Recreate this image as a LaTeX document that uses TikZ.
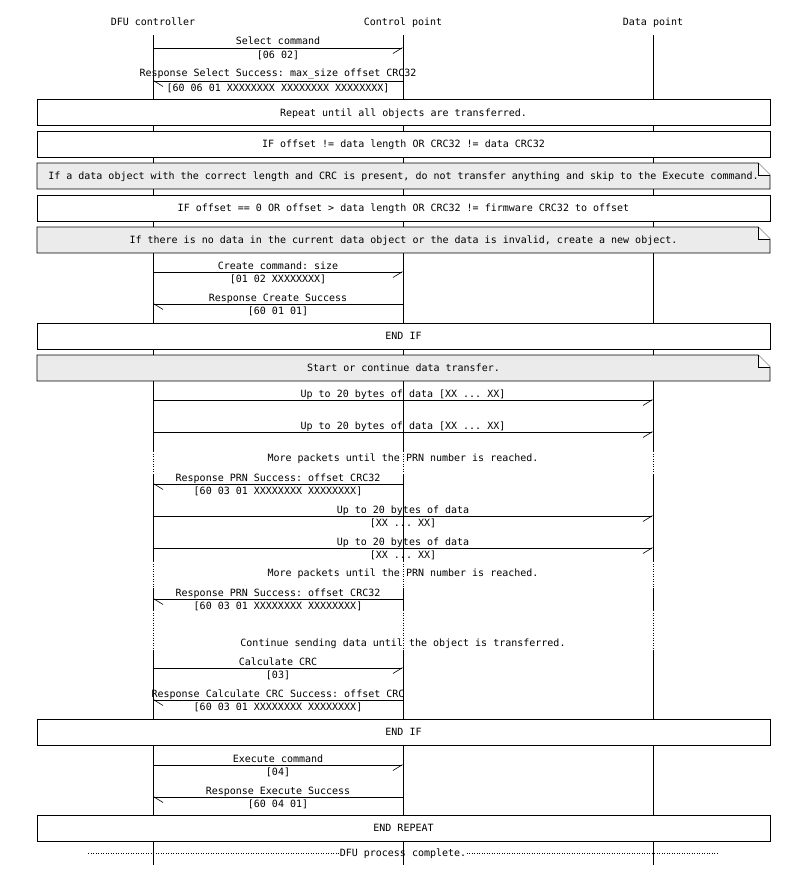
\documentclass[tikz,border=0pt]{standalone}
\usepackage{fontspec}
\setmonofont{DejaVu Sans Mono}
\usepackage{xcolor}
\usepackage{tikz}
\usetikzlibrary{math,arrows.meta}
\definecolor{notegray}{RGB}{235,235,235}

\begin{document}
\begin{tikzpicture}[x=1pt,y=-1pt,line width=0.9pt,
	font=\ttfamily\fontsize{10}{12}\selectfont,
	lbltext/.style={anchor=base,inner sep=0pt},
	lblup/.style={anchor=base,inner sep=0pt,yshift=3pt},
	lbldn/.style={anchor=base,inner sep=0pt,yshift=-10.6pt},
	boxrow/.style={draw,fill=white,minimum width=733pt,minimum height=26pt,inner sep=0pt,text height=9.3pt,text depth=2pt},
	notetext/.style={inner sep=0pt,text height=9.3pt,text depth=2pt},
	msgr/.style={-{Straight Barb[right,length=9pt,width=11pt,line width=0.6pt]}},
	msgl/.style={-{Straight Barb[left,length=9pt,width=11pt,line width=0.6pt]}},
	dotline/.style={line width=0.8pt,dash pattern=on 1pt off 1.5pt},
	notebg/.pic={
		\draw[fill=notegray] (0,0) -- (721,0) -- (733,12) -- (733,26) -- (0,26) -- cycle;
		\draw[fill=white] (721,0) -- (721,12) -- (733,12);
	}]
\useasboundingbox (0,0) rectangle (807,875);
\tikzmath{
	\xdfu = 153; \xcp = 403; \xdp = 653;
	\bxl = 37; \bxr = 770; \xm = (\bxl+\bxr)/2;
	% lifelines
	{\node[lbltext] (dfu) at (\xdfu,25.6) {DFU controller};};
	{\node[lbltext] (cp) at (\xcp,25.6) {Control point};};
	{\node[lbltext] (dp) at (\xdp,25.6) {Data point};};
	{\foreach \x in {\xdfu,\xcp,\xdp} {
		\draw (\x,35) -- (\x,451) (\x,474) -- (\x,561) (\x,588) -- (\x,610) (\x,651) -- (\x,865);
		\draw[dotline] (\x,451) -- (\x,474) (\x,561) -- (\x,588) (\x,610) -- (\x,651);
	};};
	%
	{\coordinate (sel1) at (\xdfu,48); \coordinate (sel2) at (\xcp,48);};
	{\draw[msgr] (sel1) -- node[lblup] (selu) {Select command} node[lbldn] (seld) {[06 02]} (sel2);};
	{\coordinate (rsel1) at (\xcp,81); \coordinate (rsel2) at (\xdfu,81);};
	{\draw[msgl] (rsel1) -- node[lblup,yshift=2pt] (rselu) {Response Select Success: max\_size offset CRC32} node[lbldn] (rseld) {[60 06 01 XXXXXXXX XXXXXXXX XXXXXXXX]} (rsel2);};
	%
	{\node[boxrow] (rep) at (\xm,112.5) {Repeat until all objects are transferred.};};
	{\node[boxrow] (if1) at (\xm,144) {IF offset != data length OR CRC32 != data CRC32};};
	{\pic at (\bxl,163) {notebg};};
	{\node[notetext] (skip) at (\xm,176) {If a data object with the correct length and CRC is present, do not transfer anything and skip to the Execute command.};};
	{\node[boxrow] (if2) at (\xm,208) {IF offset == 0 OR offset > data length OR CRC32 != firmware CRC32 to offset};};
	{\pic at (\bxl,227) {notebg};};
	{\node[notetext] (new) at (\xm,240) {If there is no data in the current data object or the data is invalid, create a new object.};};
	%
	{\coordinate (cre1) at (\xdfu,272); \coordinate (cre2) at (\xcp,272);};
	{\draw[msgr] (cre1) -- node[lblup] (creu) {Create command: size} node[lbldn] (cred) {[01 02 XXXXXXXX]} (cre2);};
	{\coordinate (rcre1) at (\xcp,304); \coordinate (rcre2) at (\xdfu,304);};
	{\draw[msgl] (rcre1) -- node[lblup] (rcreu) {Response Create Success} node[lbldn] (rcred) {[60 01 01]} (rcre2);};
	%
	{\node[boxrow] (endif1) at (\xm,336) {END IF};};
	{\pic at (\bxl,355) {notebg};};
	{\node[notetext] (start) at (\xm,368) {Start or continue data transfer.};};
	%
	{\coordinate (da1) at (\xdfu,400); \coordinate (da2) at (\xdp,400);};
	{\draw[msgr] (da1) -- node[lblup] (dau) {Up to 20 bytes of data [XX ... XX]} (da2);};
	{\coordinate (db1) at (\xdfu,432); \coordinate (db2) at (\xdp,432);};
	{\draw[msgr] (db1) -- node[lblup] (dbu) {Up to 20 bytes of data [XX ... XX]} (db2);};
	{\node[lbltext] (more1) at (\xcp,461.6) {More packets until the PRN number is reached.};};
	{\coordinate (prn1) at (\xcp,484); \coordinate (prn2) at (\xdfu,484);};
	{\draw[msgl] (prn1) -- node[lblup] (prnu) {Response PRN Success: offset CRC32} node[lbldn] (prnd) {[60 03 01 XXXXXXXX XXXXXXXX]} (prn2);};
	%
	{\coordinate (dc1) at (\xdfu,516); \coordinate (dc2) at (\xdp,516);};
	{\draw[msgr] (dc1) -- node[lblup] (dcu) {Up to 20 bytes of data} node[lbldn] (dcd) {[XX ... XX]} (dc2);};
	{\coordinate (dd1) at (\xdfu,548); \coordinate (dd2) at (\xdp,548);};
	{\draw[msgr] (dd1) -- node[lblup] (ddu) {Up to 20 bytes of data} node[lbldn] (ddd) {[XX ... XX]} (dd2);};
	{\node[lbltext] (more2) at (\xcp,576.6) {More packets until the PRN number is reached.};};
	{\coordinate (prnb1) at (\xcp,599); \coordinate (prnb2) at (\xdfu,599);};
	{\draw[msgl] (prnb1) -- node[lblup] (prnbu) {Response PRN Success: offset CRC32} node[lbldn] (prnbd) {[60 03 01 XXXXXXXX XXXXXXXX]} (prnb2);};
	{\node[lbltext] (cont) at (\xcp,646.6) {Continue sending data until the object is transferred.};};
	%
	{\coordinate (crc1) at (\xdfu,668); \coordinate (crc2) at (\xcp,668);};
	{\draw[msgr] (crc1) -- node[lblup] (crcu) {Calculate CRC} node[lbldn] (crcd) {[03]} (crc2);};
	{\coordinate (rcrc1) at (\xcp,700); \coordinate (rcrc2) at (\xdfu,700);};
	{\draw[msgl] (rcrc1) -- node[lblup] (rcrcu) {Response Calculate CRC Success: offset CRC} node[lbldn] (rcrcd) {[60 03 01 XXXXXXXX XXXXXXXX]} (rcrc2);};
	{\node[boxrow] (endif2) at (\xm,732) {END IF};};
	%
	{\coordinate (exe1) at (\xdfu,765); \coordinate (exe2) at (\xcp,765);};
	{\draw[msgr] (exe1) -- node[lblup] (exeu) {Execute command} node[lbldn] (exed) {[04]} (exe2);};
	{\coordinate (rexe1) at (\xcp,797); \coordinate (rexe2) at (\xdfu,797);};
	{\draw[msgl] (rexe1) -- node[lblup] (rexeu) {Response Execute Success} node[lbldn] (rexed) {[60 04 01]} (rexe2);};
	{\node[boxrow] (endrep) at (\xm,828) {END REPEAT};};
	%
	{\coordinate (endl) at (88,853); \coordinate (endr) at (718,853);};
	{\node[notetext] (done) at (\xcp,853) {DFU process complete.};};
	{\draw[dotline] (endl) -- (done.west) (done.east) -- (endr);};
};
\end{tikzpicture}
\end{document}
